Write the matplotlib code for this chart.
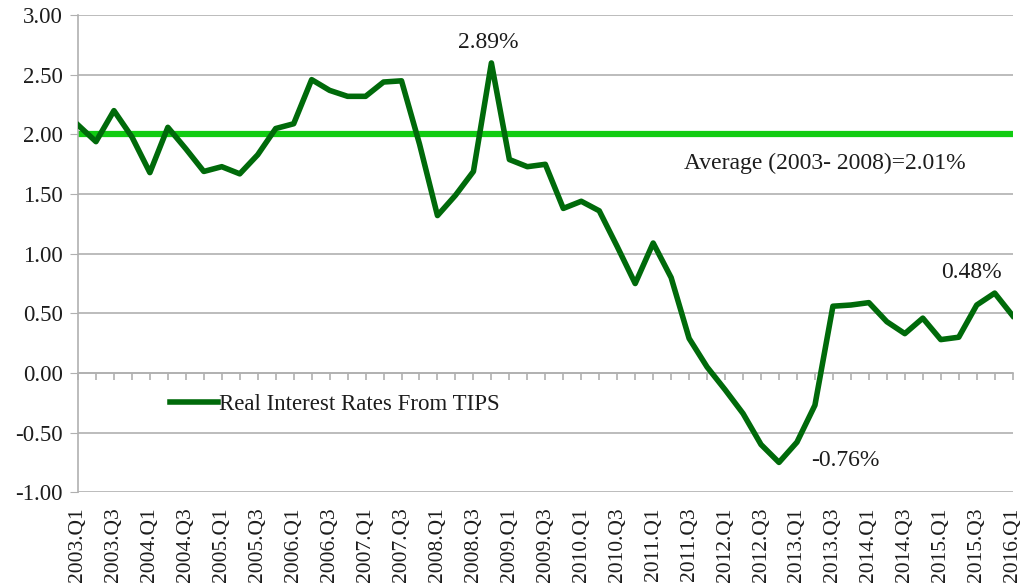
import matplotlib
matplotlib.use('Agg')
import matplotlib.pyplot as plt

# quarterly real interest rate from TIPS, 2003.Q1 - 2016.Q1
quarters = [f'{y}.Q{q}' for y in range(2003, 2017) for q in range(1, 5)][:53]
rates = [2.08, 1.94, 2.20, 1.98, 1.68, 2.06, 1.88, 1.69,
         1.73, 1.67, 1.83, 2.05, 2.09, 2.46, 2.37, 2.32,
         2.32, 2.44, 2.45, 1.92, 1.32, 1.49, 1.69, 2.60,
         1.79, 1.73, 1.75, 1.38, 1.44, 1.36, 1.06, 0.75,
         1.09, 0.80, 0.29, 0.05, -0.14, -0.34, -0.60, -0.75,
         -0.58, -0.27, 0.56, 0.57, 0.59, 0.43, 0.33, 0.46,
         0.28, 0.30, 0.57, 0.67, 0.48]
average = 2.00
yticks = [-1.0, -0.5, 0.0, 0.5, 1.0, 1.5, 2.0, 2.5, 3.0]

plt.rcParams['font.family'] = ['Liberation Serif', 'DejaVu Serif']
txt = '#1c1c1c'
grey = '#b0b0b0'

fig = plt.figure(figsize=(10.26, 5.86), dpi=100)
ax = fig.add_axes([0.076, 0.160, 0.911, 0.814])

x = list(range(len(quarters)))
ax.plot(x, [average] * len(x), color='#11cc11', lw=4.5, solid_capstyle='butt', zorder=2)
ax.plot(x, rates, color='#006a0a', lw=4, solid_joinstyle='round',
        label='Real Interest Rates From TIPS', zorder=3)

ax.set_xlim(0, len(x) - 1)
ax.set_ylim(-1.0, 3.0)
ax.set_yticks(yticks)
ax.set_yticklabels([f'{v:.2f}' for v in yticks])
ax.yaxis.grid(True, color=grey, lw=1.2)
ax.set_axisbelow(True)

for s in ['top', 'right', 'bottom']:
    ax.spines[s].set_visible(False)
ax.spines['left'].set_color(grey)
ax.spines['left'].set_linewidth(1.2)

ax.tick_params(axis='y', length=6, color=grey, labelsize=16.5, labelcolor=txt, pad=5)
ax.set_xticks(x[::2])
ax.set_xticklabels(quarters[::2], rotation=90)
ax.tick_params(axis='x', length=0, labelsize=15.5, labelcolor=txt, pad=11)

# category ticks on the zero line
sec = ax.secondary_xaxis(0.25)
sec.set_xticks(x)
sec.set_xticklabels([])
sec.tick_params(length=5, color=grey, width=1.2)
sec.spines['bottom'].set_color(grey)
sec.spines['bottom'].set_linewidth(1.2)

ax.text(22.8, 2.77, '2.89%', ha='center', va='center', fontsize=17, color=txt)
ax.text(33.7, 1.76, 'Average (2003- 2008)=2.01%', ha='left', va='center', fontsize=17, color=txt)
ax.text(49.7, 0.84, '0.48%', ha='center', va='center', fontsize=17, color=txt)
ax.text(42.7, -0.73, '-0.76%', ha='center', va='center', fontsize=17, color=txt)

leg = ax.legend(loc='center left', bbox_to_anchor=(0.098, 0.184), frameon=False,
                fontsize=16.5, handlelength=2.1, handletextpad=0.05,
                borderpad=0, borderaxespad=0, labelcolor=txt)

fig.savefig('out.png', dpi=100)
